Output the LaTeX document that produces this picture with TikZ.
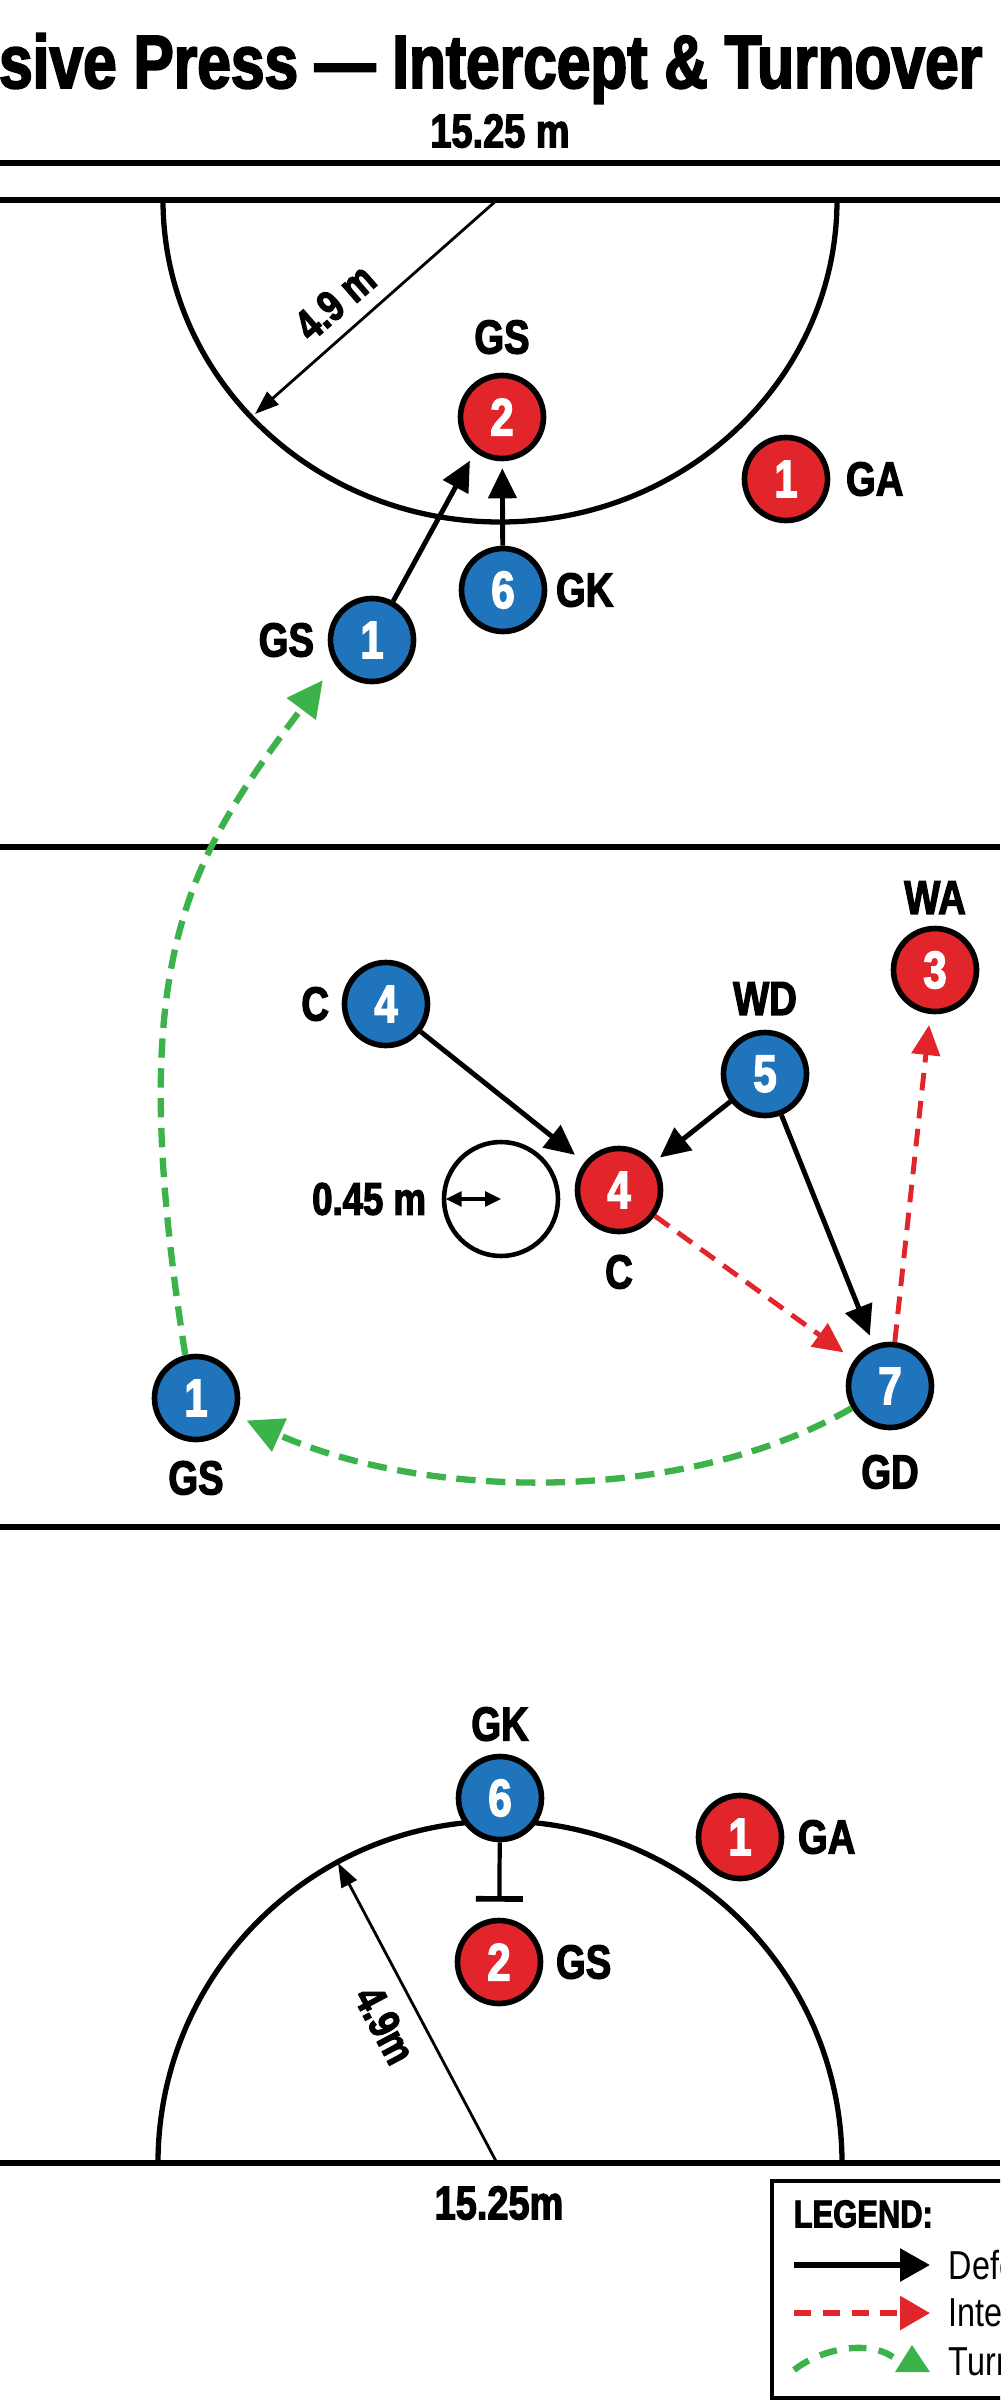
\documentclass[tikz,border=0pt]{standalone}
\usepackage{fontspec}
\setmainfont{Liberation Sans}[FakeStretch=0.8, BoldFeatures={FakeBold=2.5}]
\usetikzlibrary{arrows.meta, positioning}
\definecolor{pblue}{HTML}{1F74BB}
\definecolor{pred}{HTML}{E2242B}
\definecolor{pgreen}{HTML}{3CB34A}
\tikzset{
  player/.style={circle, draw=black, line width=1.6pt, minimum size=8.3mm, inner sep=0pt,
    text=white, font=\bfseries\fontsize{15}{15}\selectfont},
  attack/.style={player, fill=pred},
  defend/.style={player, fill=pblue},
  lbl/.style={inner sep=0pt, font=\bfseries\fontsize{13.6}{14}\selectfont},
  court/.style={line width=1.6pt},
  move/.style={line width=1.4pt, -{Triangle[length=3mm,width=2.8mm]}},
  pass/.style={pred, line width=1.4pt, dash pattern=on 5pt off 3pt, -{Triangle[length=3mm,width=2.8mm]}},
  turnover/.style={pgreen, line width=1.8pt, dash pattern=on 5.5pt off 3pt, -{Triangle[length=3.6mm,width=3.5mm]}},
  radiusline/.style={line width=0.8pt, -{Triangle[length=2.4mm,width=1.7mm]}},
}
\begin{document}
\begin{tikzpicture}[x=0.1mm, y=-0.1mm]
\useasboundingbox (0,0) rectangle (1000,2400);
\clip (0,0) rectangle (1000,2400);
\fill[white] (0,0) rectangle (1000,2400);

\node[anchor=base east, inner sep=0pt, font=\bfseries\fontsize{21.5}{24}\selectfont] (title) at (983,88) {sive Press --- Intercept \& Turnover};
\node[lbl, font=\bfseries\fontsize{13.5}{14}\selectfont] (widthtop) at (500,131) {15.25 m};

\draw[court] (0,163) -- (1000,163);
\draw[court] (0,200) -- (1000,200);
\draw[court] (0,847) -- (1000,847);
\draw[court] (0,1527) -- (1000,1527);
\draw[court] (0,2163) -- (1000,2163);

\draw[line width=1.5pt] (163,200) arc[start angle=180, end angle=0, x radius=337, y radius=322];
\draw[line width=1.5pt] (158,2163) arc[start angle=180, end angle=360, radius=342];

\coordinate (topc) at (497,200);
\coordinate (toparc) at (255,414);
\draw[radiusline] (topc) -- (toparc);
\node[lbl, font=\bfseries\fontsize{12.5}{13}\selectfont, rotate=41] (topr) at (335,302) {4.9 m};

\coordinate (botc) at (497,2163);
\coordinate (botarc) at (338,1863);
\draw[radiusline] (botc) -- (botarc);
\node[lbl, font=\bfseries\fontsize{12.5}{13}\selectfont, rotate=-62] (botr) at (385,2025) {4.9m};

\node[attack] (ugs) at (502,417) {2};
\node[lbl, above=1.8mm of ugs] (ugs-l) {GS};
\node[attack] (uga) at (786,479) {1};
\node[lbl, right=1.5mm of uga] (uga-l) {GA};
\node[defend] (ugk) at (503,590) {6};
\node[lbl, right=0.8mm of ugk] (ugk-l) {GK};
\node[defend] (ugsd) at (372,640) {1};
\node[lbl, left=1.3mm of ugsd] (ugsd-l) {GS};
\draw[move, shorten >=1mm] (ugsd) -- (ugs.232);
\draw[move, shorten >=0.7mm] (ugk) -- (ugs);

\node[attack] (wa) at (935,970) {3};
\node[lbl, above=1.1mm of wa] (wa-l) {WA};
\node[defend] (cdef) at (386,1004) {4};
\node[lbl, left=1.2mm of cdef] (cdef-l) {C};
\node[defend] (wd) at (765,1074) {5};
\node[lbl, above=1.4mm of wd] (wd-l) {WD};
\node[attack] (catt) at (619,1190) {4};
\node[lbl, below=2mm of catt] (catt-l) {C};
\node[defend] (gd) at (890,1386) {7};
\node[lbl, below=2.4mm of gd] (gd-l) {GD};
\node[defend] (gslow) at (196,1398) {1};
\node[lbl, below=1.8mm of gslow] (gslow-l) {GS};

\node[circle, draw, line width=1.3pt, minimum size=11.4mm, inner sep=0pt] (ball) at (501,1199) {};
\draw[line width=0.9pt, shorten <=0.4mm, {Triangle[length=1.6mm,width=1.5mm]}-{Triangle[length=1.6mm,width=1.5mm]}] (ball.west) -- (ball.center);
\node[lbl, font=\bfseries\fontsize{13}{14}\selectfont, left=1.5mm of ball] (ball-l) {0.45 m};

\draw[move, shorten >=1.2mm] (cdef) -- (catt);
\draw[move, shorten >=0.8mm] (wd) -- (catt);
\draw[move, shorten >=1mm] (wd) -- (gd);
\draw[pass, shorten >=1.3mm] (catt) -- (gd);
\draw[pass, shorten >=1.1mm] (gd) -- (wa);
\draw[turnover, shorten >=1.1mm] (gd.210) .. controls +(-166,96) and +(191,85) .. (gslow.-24);
\draw[turnover, shorten >=2mm] (gslow.104) .. controls +(-62,-392) and +(-150,200) .. (ugsd.213);

\node[defend] (bgk) at (500,1798) {6};
\node[lbl, above=1.2mm of bgk] (bgk-l) {GK};
\node[attack] (bga) at (740,1837) {1};
\node[lbl, right=1.3mm of bga] (bga-l) {GA};
\node[attack] (bgs) at (499,1962) {2};
\node[lbl, right=1.2mm of bgs] (bgs-l) {GS};
\draw[line width=1.2pt, shorten >=1.6mm, -{Bar[width=4.7mm, line width=1.6pt]}] (bgk) -- (bgs);

\node[lbl, font=\bfseries\fontsize{13.5}{14}\selectfont] (widthbot) at (499,2203) {15.25m};

\draw[line width=1.1pt] (772,2181) rectangle (1010,2398);
\node[lbl, font=\bfseries\fontsize{11}{12}\selectfont, anchor=west] (legtitle) at (793,2214) {LEGEND:};
\coordinate (k1a) at (794,2265);
\coordinate (k1b) at (930,2265);
\draw[line width=1.7pt, -{Triangle[length=3mm,width=3.2mm]}] (k1a) -- (k1b);
\node[anchor=west, inner sep=0pt, font=\fontsize{11.5}{12}\selectfont] (k1t) at (948,2265) {Defe};
\coordinate (k2a) at (794,2313);
\coordinate (k2b) at (930,2313);
\draw[pred, line width=1.7pt, dash pattern=on 4.8pt off 3.4pt, -{Triangle[length=3mm,width=3.3mm]}] (k2a) -- (k2b);
\node[anchor=west, inner sep=0pt, font=\fontsize{11.5}{12}\selectfont] (k2t) at (948,2313) {Inte};
\coordinate (k3a) at (794,2370);
\coordinate (k3b) at (893,2357);
\draw[pgreen, line width=1.8pt, dash pattern=on 5pt off 3.5pt] (k3a) .. controls (822,2348) and (868,2340) .. (k3b);
\fill[pgreen] (912,2345) -- (930,2372) -- (895,2372) -- cycle;
\node[anchor=west, inner sep=0pt, font=\fontsize{11.5}{12}\selectfont] (k3t) at (948,2362) {Turn};
\end{tikzpicture}
\end{document}
